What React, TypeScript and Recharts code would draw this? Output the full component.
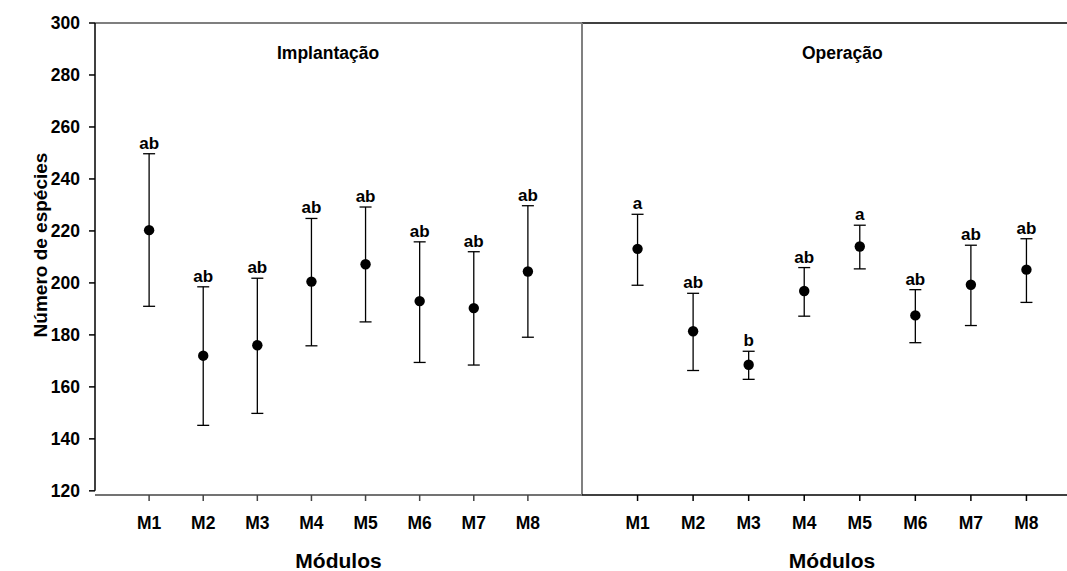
import React from "react";
import { ScatterChart, Scatter, XAxis, YAxis, ErrorBar, ReferenceLine } from "recharts";

const modules = ["M1", "M2", "M3", "M4", "M5", "M6", "M7", "M8"];
const yTicks = [120, 140, 160, 180, 200, 220, 240, 260, 280, 300];

// Implantação
const implMean = [220.3, 172.0, 176.0, 200.5, 207.2, 193.0, 190.3, 204.4];
const implUpper = [249.7, 198.5, 201.8, 224.8, 229.2, 215.8, 212.0, 229.7];
const implLower = [191.0, 145.2, 149.8, 175.8, 185.0, 169.4, 168.4, 179.1];
const implLetters = ["ab", "ab", "ab", "ab", "ab", "ab", "ab", "ab"];

// Operação
const operMean = [213.1, 181.4, 168.5, 196.9, 214.0, 187.5, 199.3, 205.1];
const operUpper = [226.4, 196.0, 173.7, 205.9, 222.2, 197.4, 214.5, 217.0];
const operLower = [199.1, 166.3, 162.9, 187.2, 205.4, 177.0, 183.6, 192.5];
const operLetters = ["a", "ab", "b", "ab", "a", "ab", "ab", "ab"];

const FONT = '"Liberation Sans", Arial, Helvetica, sans-serif';
const Y_DOMAIN: [number, number] = [118.4, 300];

const pointRows = (mean: number[], upper: number[], lower: number[]) =>
  mean.map((m, i) => ({ x: i + 1, v: m, err: [m - lower[i], upper[i] - m] }));

const letterRows = (upper: number[], letters: string[]) =>
  upper.map((u, i) => ({ x: i + 1, v: u, letter: letters[i] }));

const Dot = (p: any) => <circle cx={p.cx} cy={p.cy} r={5.2} fill="#000" />;

const Letter = (p: any) => (
  <text
    x={p.cx}
    y={p.cy - 5}
    textAnchor="middle"
    fontFamily={FONT}
    fontWeight="bold"
    fontSize={17}
    fill="#000"
  >
    {p.payload.letter}
  </text>
);

const tickStyle = { fill: "#000", fontSize: 17.5, fontWeight: "bold", fontFamily: FONT };

type PanelProps = {
  mean: number[];
  upper: number[];
  lower: number[];
  letters: string[];
  width: number;
  left: number;
  marginLeft: number;
  withYAxis: boolean;
  axisColor: string;
  topColor: string;
};

const Panel = ({ mean, upper, lower, letters, width, left, marginLeft, withYAxis, axisColor, topColor }: PanelProps) => (
  <div style={{ position: "absolute", left, top: 0 }}>
    <ScatterChart width={width} height={571} margin={{ top: 23, right: 0, bottom: 1, left: marginLeft }}>
      <XAxis
        type="number"
        dataKey="x"
        domain={[0, 9]}
        ticks={[1, 2, 3, 4, 5, 6, 7, 8]}
        tickFormatter={(i: number) => modules[i - 1]}
        height={75}
        stroke={axisColor}
        strokeWidth={1.5}
        tickSize={6}
        tickMargin={16}
        tick={tickStyle}
        label={{
          value: "Módulos",
          position: "insideBottom",
          offset: 2,
          style: { fill: "#000", fontSize: 21, fontWeight: "bold", fontFamily: FONT },
        }}
      />
      <YAxis
        type="number"
        dataKey="v"
        domain={Y_DOMAIN}
        ticks={yTicks}
        hide={!withYAxis}
        width={withYAxis ? 95 : 0}
        axisLine={false}
        tickLine={{ stroke: "#000", strokeWidth: 1.5 }}
        tickSize={6}
        tickMargin={9}
        tick={tickStyle}
      />
      <ReferenceLine y={300} stroke={topColor} strokeWidth={1.5} />
      {withYAxis ? (
        <ReferenceLine
          segment={[
            { x: 0, y: 120 },
            { x: 0, y: 300 },
          ]}
          stroke="#000"
          strokeWidth={1.5}
        />
      ) : (
        <ReferenceLine x={0} stroke="#808080" strokeWidth={2} />
      )}
      <Scatter
        data={pointRows(mean, upper, lower)}
        dataKey="v"
        shape={Dot}
        isAnimationActive={false}
      >
        <ErrorBar dataKey="err" direction="y" width={6} stroke="#000" strokeWidth={1.3} />
      </Scatter>
      <Scatter data={letterRows(upper, letters)} dataKey="v" shape={Letter} isAnimationActive={false} />
    </ScatterChart>
  </div>
);

const titleStyle: React.CSSProperties = {
  position: "absolute",
  top: 45,
  fontFamily: FONT,
  fontWeight: "bold",
  fontSize: 17.5,
  lineHeight: 1,
  color: "#000",
  whiteSpace: "nowrap",
};

export default function App() {
  return (
    <div
      style={{
        position: "absolute",
        left: 0,
        top: 0,
        width: 1067,
        height: 571,
        overflow: "hidden",
        background: "#fff",
        fontFamily: FONT,
      }}
    >
      <Panel
        mean={implMean}
        upper={implUpper}
        lower={implLower}
        letters={implLetters}
        width={582}
        left={0}
        marginLeft={0}
        withYAxis={true}
        axisColor="#444"
        topColor="#555"
      />
      <Panel
        mean={operMean}
        upper={operUpper}
        lower={operLower}
        letters={operLetters}
        width={510}
        left={572}
        marginLeft={10}
        withYAxis={false}
        axisColor="#000"
        topColor="#000"
      />
      <div style={{ ...titleStyle, left: 277 }}>Implantação</div>
      <div style={{ ...titleStyle, left: 802 }}>Operação</div>
      <div
        style={{
          position: "absolute",
          left: 40,
          top: 245,
          transform: "translate(-50%, -50%) rotate(-90deg)",
          fontFamily: FONT,
          fontWeight: "bold",
          fontSize: 19,
          lineHeight: 1,
          color: "#000",
          whiteSpace: "nowrap",
        }}
      >
        Número de espécies
      </div>
    </div>
  );
}
